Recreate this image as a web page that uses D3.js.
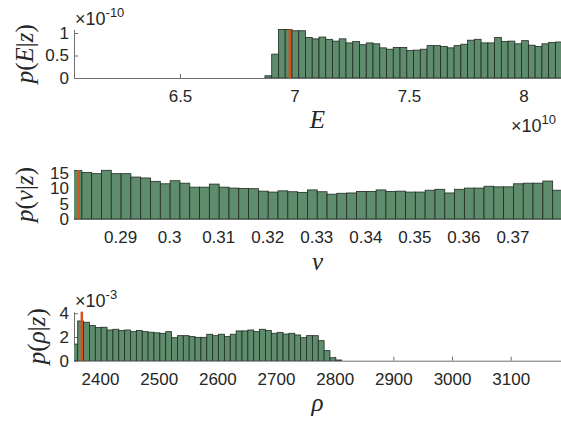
<!DOCTYPE html>
<html>
<head>
<meta charset="utf-8">
<script src="https://cdn.jsdelivr.net/npm/d3@7"></script>
<style>
  body { margin: 0; background: #fff; }
  .tick text { font-family: "Liberation Sans", Arial, sans-serif; font-size: 17px; fill: #262626; }
  .axis path, .axis line { stroke: #707070; }
  .lab { font-family: "Liberation Serif", "Times New Roman", serif; fill: #262626; }
  .exp { font-family: "Liberation Sans", Arial, sans-serif; fill: #262626; }
</style>
</head>
<body>
<div id="chart"></div>
<script>
// E panel (density x 1e-10, E x 1e10)
const eTicks = [6.5, 7, 7.5, 8];
const eYTicks = [0, 0.5, 1];
const eDensity = [0.05, 0.53, 1.08, 1.08, 1.05, 1.05, 0.90, 0.87, 0.91, 0.86, 0.82, 0.87,
  0.78, 0.81, 0.74, 0.78, 0.76, 0.67, 0.64, 0.68, 0.68, 0.61, 0.62, 0.64, 0.72, 0.72,
  0.70, 0.67, 0.72, 0.75, 0.84, 0.86, 0.78, 0.78, 0.90, 0.81, 0.82, 0.76, 0.83, 0.73,
  0.70, 0.76, 0.79, 0.80];
const eBins = { start: 6.871, width: 0.0295 };
const eTrue = 6.98;

// nu panel
const nuTicks = [0.29, 0.3, 0.31, 0.32, 0.33, 0.34, 0.35, 0.36, 0.37];
const nuYTicks = [0, 5, 10, 15];
const nuDensity = [15.8, 15.2, 14.8, 15.9, 14.8, 14.8, 13.7, 13.4, 12.3, 11.5, 12.5, 11.7,
  10.4, 10.4, 11.4, 10.4, 10.1, 10.0, 9.9, 9.1, 8.8, 9.2, 8.9, 8.7, 9.5, 8.9, 8.1, 8.4,
  8.5, 9.0, 9.0, 9.5, 9.0, 9.1, 8.8, 8.8, 9.4, 9.7, 8.5, 9.7, 10.1, 10.1, 10.7, 10.5,
  10.5, 11.5, 11.7, 11.7, 12.4, 9.4];
const nuBins = { start: 0.2802, width: 0.002 };
const nuTrue = 0.2815;

// rho panel (density x 1e-3)
const rhoTicks = [2400, 2500, 2600, 2700, 2800, 2900, 3000, 3100];
const rhoYTicks = [0, 2, 4];
const rhoDensity = [1.4, 3.35, 3.24, 2.96, 2.79, 2.82, 2.59, 2.65, 2.54, 2.59, 2.45, 2.54,
  2.45, 2.4, 2.35, 2.31, 2.45, 1.94, 2.11, 2.11, 2.03, 1.97, 1.97, 2.23, 2.11, 2.23, 2.03,
  2.23, 2.51, 2.51, 2.59, 2.45, 2.65, 2.54, 2.31, 2.39, 2.25, 2.31, 2.17, 1.94, 2.11,
  2.11, 1.69, 0.85, 0.25, 0.06];
const rhoBins = { start: 2352, width: 10 };
const rhoTrue = 2369;

const width = 561;
const height = 424;
const left = 74, right = 561;

const svg = d3.select("#chart").append("svg")
  .attr("width", width)
  .attr("height", height);

const panels = [
  {
    id: "e", xDomain: [6.037, 8.164], yDomain: [0, 1.08], base: 78, top: 29.4,
    data: eDensity, bins: eBins, truth: eTrue, xTicks: eTicks, yTicks: eYTicks,
    yFmt: d3.format("~g"), xFmt: d3.format("~g"),
    ylabel: [["p", 1], ["(", 0], ["E", 1], ["|", 0], ["z", 1], [")", 0]], ylabelX: 33, xlabel: "E",
    xlabelY: 128, yExp: { x: 75, y: 25, sup: "-10" }, xExp: { x: 511, y: 132, sup: "10" }
  },
  {
    id: "nu", xDomain: [0.2806, 0.3799], yDomain: [0, 16], base: 219, top: 170,
    data: nuDensity, bins: nuBins, truth: nuTrue, xTicks: nuTicks, yTicks: nuYTicks,
    yFmt: d3.format("~g"), xFmt: d3.format("~g"),
    ylabel: [["p", 1], ["(", 0], ["\u03bd", 1], ["|", 0], ["z", 1], [")", 0]], ylabelX: 33, xlabel: "\u03bd",
    xlabelY: 270
  },
  {
    id: "rho", xDomain: [2355.7, 3185.7], yDomain: [0, 4.13], base: 360.7, top: 311.7,
    data: rhoDensity, bins: rhoBins, truth: rhoTrue, xTicks: rhoTicks, yTicks: rhoYTicks,
    yFmt: d3.format("~g"), xFmt: d3.format("d"),
    ylabel: [["p", 1], ["(", 0], ["\u03c1", 1], ["|", 0], ["z", 1], [")", 0]], ylabelX: 45, xlabel: "\u03c1",
    xlabelY: 411, yExp: { x: 75, y: 307, sup: "-3" }
  }
];

panels.forEach(p => {
  const x = d3.scaleLinear().domain(p.xDomain).range([left, right]);
  const y = d3.scaleLinear().domain(p.yDomain).range([p.base, p.top]);
  const g = svg.append("g");

  // axes first, bars drawn over them
  g.append("g")
    .attr("class", "axis")
    .attr("transform", `translate(0,${p.base})`)
    .call(d3.axisBottom(x).tickValues(p.xTicks).tickFormat(p.xFmt)
      .tickSizeInner(-4).tickSizeOuter(0).tickPadding(12));

  g.append("g")
    .attr("class", "axis")
    .attr("transform", `translate(${left},0)`)
    .call(d3.axisLeft(y).tickValues(p.yTicks).tickFormat(p.yFmt)
      .tickSizeInner(-4).tickSizeOuter(0).tickPadding(5));

  g.selectAll(".tick text").attr("fill", "#262626");

  svg.append("clipPath").attr("id", "clip-" + p.id)
    .append("rect")
    .attr("x", left).attr("y", p.top - 2)
    .attr("width", right - left).attr("height", p.base - p.top + 2);

  g.append("g")
    .attr("clip-path", `url(#clip-${p.id})`)
    .selectAll("rect")
    .data(p.data)
    .join("rect")
    .attr("x", (d, i) => x(p.bins.start + i * p.bins.width))
    .attr("width", (d, i) => x(p.bins.start + (i + 1) * p.bins.width) - x(p.bins.start + i * p.bins.width))
    .attr("y", d => y(d))
    .attr("height", d => y(0) - y(d))
    .attr("fill", "#5f8c6c")
    .attr("stroke", "#1f2b22")
    .attr("stroke-width", 0.8);

  // true value
  g.append("line")
    .attr("x1", x(p.truth)).attr("x2", x(p.truth))
    .attr("y1", y(0)).attr("y2", y(p.yDomain[1]))
    .attr("stroke", "#d95319")
    .attr("stroke-width", 2.5);

  // y label
  const yl = g.append("text")
    .attr("class", "lab")
    .attr("font-size", 25)
    .attr("text-anchor", "middle")
    .attr("transform", `translate(${p.ylabelX},${(p.base + p.top) / 2}) rotate(-90)`);
  p.ylabel.forEach(([s, it]) => {
    yl.append("tspan").attr("font-style", it ? "italic" : "normal").text(s);
  });

  // x label
  g.append("text")
    .attr("class", "lab")
    .attr("font-size", 25)
    .attr("font-style", "italic")
    .attr("text-anchor", "middle")
    .attr("x", (left + right) / 2)
    .attr("y", p.xlabelY)
    .text(p.xlabel);

  [p.yExp, p.xExp].forEach(ex => {
    if (!ex) return;
    const t = g.append("text").attr("class", "exp")
      .attr("x", ex.x).attr("y", ex.y).attr("font-size", 18);
    t.append("tspan").text("\u00d710");
    t.append("tspan").attr("dy", -8).attr("font-size", 13).text(ex.sup);
  });
});
</script>
</body>
</html>
